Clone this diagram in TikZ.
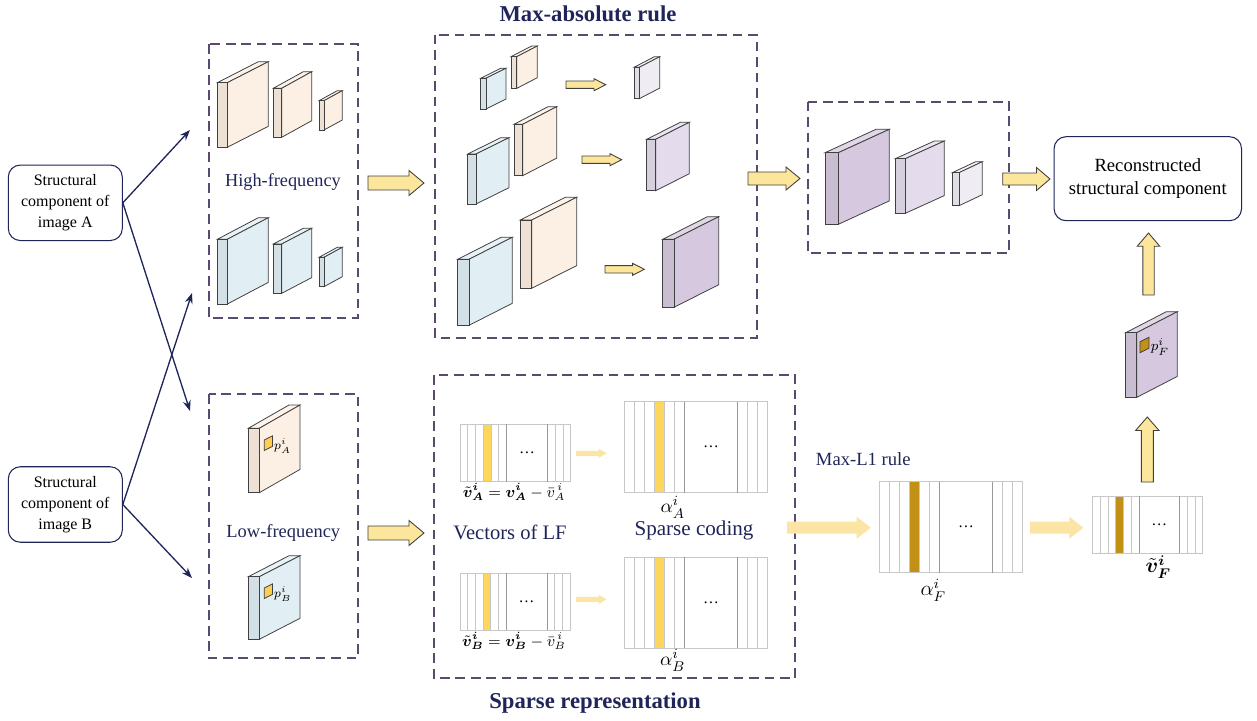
\documentclass[tikz,border=0pt]{standalone}
\usepackage{amsmath,amssymb,bm}
\usepackage{fontspec}
\setmainfont{Liberation Serif}
\usetikzlibrary{arrows.meta}

\definecolor{navy}{HTML}{1F2559}
\definecolor{grpline}{HTML}{5B4A70}
\definecolor{peach}{HTML}{FCEFE3}
\definecolor{hfblue}{HTML}{E1EFF5}
\definecolor{lilacA}{HTML}{D6C9DF}
\definecolor{lilacB}{HTML}{E4DCEC}
\definecolor{lilacC}{HTML}{F0ECF4}
\definecolor{arrowyellow}{HTML}{FCE69C}
\definecolor{paleyellow}{HTML}{FBE4A4}
\definecolor{stripeyellow}{HTML}{FDD65E}
\definecolor{stripegold}{HTML}{C39016}

% thin 3D slab: x, y (top of front face), thickness, height, depth x, depth y, fill
\newcommand{\slab}[7]{%
  \filldraw[slabline, fill=#7!75!white] (#1,#2) -- (#1+#5,#2+#6) -- (#1+#3+#5,#2+#6) -- (#1+#3,#2) -- cycle;
  \filldraw[slabline, fill=#7] (#1+#3,#2) -- (#1+#3+#5,#2+#6) -- (#1+#3+#5,#2+#6+#4) -- (#1+#3,#2+#4) -- cycle;
  \filldraw[slabline, fill=#7!94!black] (#1,#2) rectangle (#1+#3,#2+#4);
}
% patch on the side face of a slab: x, y, width, height, fill
\newcommand{\patch}[5]{%
  \filldraw[slabline, fill=#5] (#1,#2) -- (#1+#3,#2-0.5*#3) -- (#1+#3,#2-0.5*#3+#4) -- (#1,#2+#4) -- cycle;
}
% striped coefficient vector: x, y, width, height, stripe colour
\newcommand{\codevec}[5]{%
  \begin{scope}[shift={(#1,#2)}, xscale=#3, yscale=#4]
    \fill[#5] (0.21,0) rectangle (0.28,1);
    \foreach \u in {0.07,0.14,0.21,0.28,0.35,0.86,0.93} \draw[vecline] (\u,0) -- (\u,1);
    \draw[vecline] (0,0) rectangle (1,1);
    \draw[vecmid] (0.42,0) -- (0.42,1) (0.79,0) -- (0.79,1);
    \node[font=\fontsize{9}{10}\selectfont] at (0.605,0.5) {\dots};
  \end{scope}}
% block arrows: [style] x1, x2, y, shaft half, head half, head length
\newcommand{\harrow}[7][fatarrow]{%
  \draw[#1] (#2,#4-#5) -- (#3-#7,#4-#5) -- (#3-#7,#4-#6) -- (#3,#4) -- (#3-#7,#4+#6) -- (#3-#7,#4+#5) -- (#2,#4+#5) -- cycle;}
% [style] x, y tail, y tip, shaft half, head half, head length
\newcommand{\varrow}[7][fatarrow]{%
  \draw[#1] (#2-#5,#3) -- (#2-#5,#4+#7) -- (#2-#6,#4+#7) -- (#2,#4) -- (#2+#6,#4+#7) -- (#2+#5,#4+#7) -- (#2+#5,#3) -- cycle;}

\begin{document}
\begin{tikzpicture}[x=0.02cm, y=-0.02cm,
  slabline/.style={draw=black!75, line width=0.45pt},
  vecline/.style={draw=black!22, line width=0.4pt},
  vecmid/.style={draw=black!40, line width=0.4pt},
  fatarrow/.style={draw=black!75, line width=0.5pt, fill=arrowyellow},
  palearrow/.style={fill=paleyellow, draw=none},
  groupbox/.style={draw=grpline, line width=1.1pt, dash pattern=on 5.5pt off 3.3pt},
  srcbox/.style={draw=navy, line width=0.6pt, rounded corners=0.24cm, align=center, inner sep=0pt},
  feed/.style={-{Stealth[length=6pt, width=4.5pt]}, draw=navy, line width=0.75pt},
  navylab/.style={text=navy, inner sep=0pt},
  mathlab/.style={inner sep=0pt}]
\useasboundingbox (0,0) rectangle (1257,720);

% source images and output
\node[srcbox, minimum width=2.28cm, minimum height=1.51cm, font=\rmfamily\fontsize{9.1}{12}\selectfont] (srcA) at (65.3,202.8) {Structural\\component of\\image A};
\node[srcbox, minimum width=2.28cm, minimum height=1.51cm, font=\rmfamily\fontsize{9.1}{12}\selectfont] (srcB) at (65.3,504.5) {Structural\\component of\\image B};
\node[srcbox, minimum width=3.75cm, minimum height=1.68cm, font=\rmfamily\fontsize{10.6}{13}\selectfont] (recon) at (1147.8,178.7) {Reconstructed\\structural component};

% decomposition into high and low frequency
\coordinate (hfA) at (190,130);
\coordinate (lfA) at (190,411);
\coordinate (hfB) at (192,293);
\coordinate (lfB) at (192,578);
\draw[feed] (srcA.east) -- (hfA);
\draw[feed] (srcA.east) -- (lfA);
\draw[feed] (srcB.east) -- (hfB);
\draw[feed] (srcB.east) -- (lfB);

% group frames
\draw[groupbox] (209,44) rectangle (357.7,318.3);
\draw[groupbox] (435,34.7) rectangle (756.7,338.3);
\draw[groupbox] (807.7,101.7) rectangle (1009.3,252.7);
\draw[groupbox] (209,394) rectangle (357.7,658.3);
\draw[groupbox] (434,375) rectangle (795,678.3);

\node[navylab, font=\rmfamily\fontsize{12.9}{14}\selectfont\bfseries] (maxtitle) at (588,14) {Max-absolute rule};
\node[navylab, font=\rmfamily\fontsize{12.9}{14}\selectfont\bfseries] (sparsetitle) at (595,703) {Sparse representation};

% high-frequency layers
\slab{217.3}{82.7}{10}{64.6}{41}{-21}{peach}
\slab{273.3}{88.3}{8.4}{49}{30}{-16.6}{peach}
\slab{319}{100.7}{5}{29.3}{18.3}{-10}{peach}
\slab{217.3}{239.3}{10}{64.7}{41}{-21.6}{hfblue}
\slab{273.3}{244}{8.4}{49.3}{30}{-15.7}{hfblue}
\slab{319}{257.3}{5}{29.4}{18.3}{-10}{hfblue}
\node[navylab, font=\rmfamily\fontsize{10.4}{12}\selectfont] (hflab) at (283,182) {High-frequency};

% max-absolute fusion, scale by scale
\slab{480.7}{78.3}{5.3}{30.7}{20}{-10}{hfblue}
\slab{511}{56.7}{5.7}{31.7}{20.6}{-10.7}{peach}
\harrow{566}{605.7}{84.7}{3.7}{6}{11.7}
\slab{634}{67.3}{5.3}{31.4}{20.4}{-10.6}{lilacC}
\slab{467.7}{154}{8.3}{50}{33}{-16.3}{hfblue}
\slab{514}{124.3}{8.7}{51.4}{34}{-17.6}{peach}
\harrow{582}{621.7}{159.7}{3.7}{6}{11.7}
\slab{646.7}{139.3}{9}{51.4}{33.6}{-17}{lilacB}
\slab{457.7}{259.3}{11.3}{66}{43.3}{-22}{hfblue}
\slab{520.3}{220}{11.4}{68.3}{45}{-22.7}{peach}
\harrow{605}{644.3}{269.3}{3.7}{6}{11.7}
\slab{662.7}{239.3}{11.3}{68}{44.7}{-22.6}{lilacA}

% fused high-frequency layers
\slab{825}{152.7}{13.3}{71.6}{51}{-23.4}{lilacA}
\slab{895.3}{158.7}{10}{54.6}{39}{-17.7}{lilacB}
\slab{952.3}{172.7}{6.7}{33}{23.3}{-11}{lilacC}

\harrow{368}{424}{183}{7}{12.5}{15}
\harrow{748}{800}{178.5}{6.5}{11.5}{14}
\harrow{1002.7}{1050}{179}{6}{11.5}{13.5}

% low-frequency layers with patches
\slab{248.3}{428.3}{11}{64.4}{40.7}{-23.3}{peach}
\patch{264.3}{440}{8.3}{10.5}{stripeyellow!90!orange}
\node[mathlab, anchor=west, font=\fontsize{7}{8}\selectfont] (pA) at (273.5,446) {$p^{i}_{A}$};
\slab{248.3}{576.7}{11}{62.6}{40.7}{-21}{hfblue}
\patch{264.3}{588}{8.3}{10.5}{stripeyellow!90!orange}
\node[mathlab, anchor=west, font=\fontsize{7}{8}\selectfont] (pB) at (273.5,594) {$p^{i}_{B}$};
\node[navylab, font=\rmfamily\fontsize{10.5}{12}\selectfont] (lflab) at (283.3,533) {Low-frequency};
\harrow{368}{424}{533}{7}{12.5}{15}

% sparse coding of the low-frequency vectors
\codevec{460}{424.3}{110.7}{57.4}{stripeyellow}
\codevec{624.3}{401.7}{143.4}{91}{stripeyellow}
\codevec{460}{573.3}{110}{56.7}{stripeyellow}
\codevec{624.3}{557.3}{143.4}{91}{stripeyellow}
\harrow[palearrow]{576}{606.7}{453.3}{2.5}{4.5}{8}
\harrow[palearrow]{576}{606.7}{599.3}{2.5}{4.5}{8}
\node[mathlab, anchor=north, font=\fontsize{9}{10}\selectfont] (vA) at (514,483) {$\tilde{\bm v}^{\bm i}_{\bm A}=\bm v^{\bm i}_{\bm A}-\bar{v}^{\,i}_{A}$};
\node[mathlab, anchor=north, font=\fontsize{9}{10}\selectfont] (vB) at (514,632) {$\tilde{\bm v}^{\bm i}_{\bm B}=\bm v^{\bm i}_{\bm B}-\bar{v}^{\,i}_{B}$};
\node[mathlab, font=\fontsize{11}{12}\selectfont] (aA) at (672.7,507) {$\alpha^{i}_{A}$};
\node[mathlab, font=\fontsize{11}{12}\selectfont] (aB) at (672.7,660) {$\alpha^{i}_{B}$};
\node[navylab, font=\rmfamily\fontsize{11.7}{13}\selectfont] (lfvec) at (510,532.5) {Vectors of LF};
\node[navylab, font=\rmfamily\fontsize{12}{13}\selectfont] (coding) at (694,530) {Sparse coding};

% Max-L1 fusion and reconstruction of the patch
\harrow[palearrow]{787}{870.7}{527.7}{6}{11}{14}
\node[navylab, font=\rmfamily\fontsize{10.6}{12}\selectfont] (l1lab) at (863.3,459.3) {Max-L1 rule};
\codevec{879.3}{481.7}{143.4}{91}{stripegold}
\node[mathlab, font=\fontsize{12}{13}\selectfont] (aF) at (933.3,590) {$\alpha^{i}_{F}$};
\harrow[palearrow]{1030}{1083.3}{527.7}{6}{11}{14}
\codevec{1092.7}{496}{110}{57.3}{stripegold}
\node[mathlab, anchor=north, font=\fontsize{12}{13}\selectfont] (vF) at (1158.3,555) {$\tilde{\bm v}^{\bm i}_{\bm F}$};
\varrow{1147.3}{482}{417}{6}{11.7}{13.5}
\slab{1125.7}{332.7}{11}{64.7}{40.6}{-21}{lilacA}
\patch{1140}{341.7}{9}{11}{stripegold}
\node[mathlab, anchor=west, font=\fontsize{8}{9}\selectfont] (pF) at (1150.5,347) {$p^{i}_{F}$};
\varrow{1148.5}{295}{233}{5.7}{11.3}{13.3}
\end{tikzpicture}
\end{document}
